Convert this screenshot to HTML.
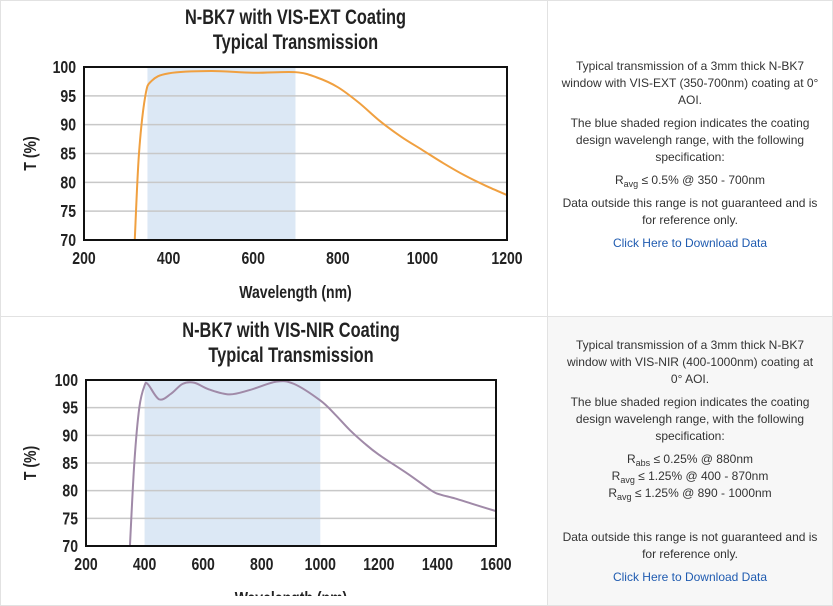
<!DOCTYPE html>
<html><head><meta charset="utf-8"><style>
body{margin:0;width:833px;height:596px;overflow:hidden;background:#fff;font-family:"Liberation Sans",sans-serif;}
.cell{position:absolute;box-sizing:border-box;border:1px solid #e2e2e2;}
.txt{position:absolute;left:547px;width:286px;text-align:center;font-size:12px;line-height:17px;color:#333;}
.txt p{margin:0 0 6px 0;}
.txt a{color:#1f5bb0;text-decoration:none;}
sub{font-size:9px;vertical-align:-3px;line-height:0}
svg text{font-family:"Liberation Sans",sans-serif;font-weight:bold;fill:#222;}
</style></head><body>
<div class="cell" style="left:0;top:0;width:548px;height:317px"></div>
<div class="cell" style="left:547px;top:0;width:286px;height:317px"></div>
<div class="cell" style="left:0;top:316px;width:548px;height:290px"></div>
<div class="cell" style="left:547px;top:316px;width:286px;height:290px;background:#f7f7f7"></div>

<svg id="s" width="833" height="596" style="position:absolute;left:0;top:0"></svg>

<div class="txt" style="top:58px;padding:0 10px;box-sizing:border-box">
<p>Typical transmission of a 3mm thick N-BK7 window with VIS-EXT (350-700nm) coating at 0° AOI.</p>
<p>The blue shaded region indicates the coating design wavelengh range, with the following specification:</p>
<p>R<sub>avg</sub> ≤ 0.5% @ 350 - 700nm</p>
<p>Data outside this range is not guaranteed and is for reference only.</p>
<p><a>Click Here to Download Data</a></p>
</div>
<div class="txt" style="top:337px;padding:0 14px;box-sizing:border-box">
<p>Typical transmission of a 3mm thick N-BK7 window with VIS-NIR (400-1000nm) coating at 0° AOI.</p>
<p>The blue shaded region indicates the coating design wavelengh range, with the following specification:</p>
<p style="margin:0">R<sub>abs</sub> ≤ 0.25% @ 880nm<br>R<sub>avg</sub> ≤ 1.25% @ 400 - 870nm<br>R<sub>avg</sub> ≤ 1.25% @ 890 - 1000nm</p>
<p style="margin-top:27px">Data outside this range is not guaranteed and is for reference only.</p>
<p><a>Click Here to Download Data</a></p>
</div>

<script>
var s=document.getElementById('s'),h='';
function T(x,y,sz,anc,str,rot){
 return '<text transform="translate('+x+','+y+')'+(rot?' rotate(-90)':'')+' scale(0.78,1)" font-size="'+sz+'" text-anchor="'+anc+'">'+str+'</text>';
}
function chart(o){
 var X=function(v){return o.x0+(v-o.xmin)/(o.xmax-o.xmin)*(o.x1-o.x0)};
 var Y=function(v){return o.y1-(v-70)/30*(o.y1-o.y0)};
 h+='<rect x="'+X(o.s0)+'" y="'+o.y0+'" width="'+(X(o.s1)-X(o.s0))+'" height="'+(o.y1-o.y0)+'" fill="#dce8f5"/>';
 for(var t=75;t<100;t+=5)h+='<line x1="'+o.x0+'" x2="'+o.x1+'" y1="'+Y(t)+'" y2="'+Y(t)+'" stroke="#c8c8c8" stroke-width="1.5"/>';
 var p=o.pts.map(function(q){return [X(q[0]),Y(q[1])]}),d='M'+p[0];
 for(var i=0;i<p.length-1;i++){var a=p[i-1]||p[i],b=p[i],c=p[i+1],e=p[i+2]||c;
  d+=' C'+(b[0]+(c[0]-a[0])/6)+','+(b[1]+(c[1]-a[1])/6)+' '+(c[0]-(e[0]-b[0])/6)+','+(c[1]-(e[1]-b[1])/6)+' '+c;}
 h+='<path d="'+d+'" fill="none" stroke="'+o.col+'" stroke-width="2"/>';
 h+='<rect x="'+o.x0+'" y="'+o.y0+'" width="'+(o.x1-o.x0)+'" height="'+(o.y1-o.y0)+'" fill="none" stroke="#111" stroke-width="2"/>';
 for(t=70;t<=100;t+=5)h+=T(o.x0-8,Y(t)+6,18,'end',t);
 for(t=o.xmin;t<=o.xmax;t+=o.xs)h+=T(X(t),o.y1+24,18,'middle',t);
 var cx=(o.x0+o.x1)/2;
 h+=T(cx,o.y0-43,21,'middle',o.t);
 h+=T(cx,o.y0-18,21,'middle','Typical Transmission');
 h+=T(cx,o.y1+58,18,'middle','Wavelength (nm)');
 h+=T(36,(o.y0+o.y1)/2,18,'middle','T (%)',1);
}
chart({x0:84,x1:507,y0:67,y1:240,xmin:200,xmax:1200,xs:200,s0:350,s1:700,col:"#f0a040",t:"N-BK7 with VIS-EXT Coating",
pts:[[320,70],[330,85],[345,95],[360,97.6],[400,98.9],[500,99.3],[600,99],[700,99.1],[750,98.2],[800,96.5],[850,93.8],[900,90.6],[950,87.9],[1000,85.6],[1050,83.3],[1100,81.2],[1150,79.4],[1200,77.8]]});
chart({x0:86,x1:496,y0:380,y1:546,xmin:200,xmax:1600,xs:200,s0:400,s1:1000,col:"#a08aa8",t:"N-BK7 with VIS-NIR Coating",
pts:[[350,70],[365,85],[382,95],[400,99],[412,99.2],[450,96.5],[490,97.5],[530,99.3],[570,99.5],[620,98.3],[690,97.4],[760,98.2],[850,99.7],[910,99.3],[1000,96.3],[1050,93.8],[1100,91],[1150,88.6],[1200,86.5],[1300,83],[1380,80],[1410,79.3],[1460,78.6],[1520,77.6],[1600,76.3]]});
s.innerHTML=h;
</script>
</body></html>
